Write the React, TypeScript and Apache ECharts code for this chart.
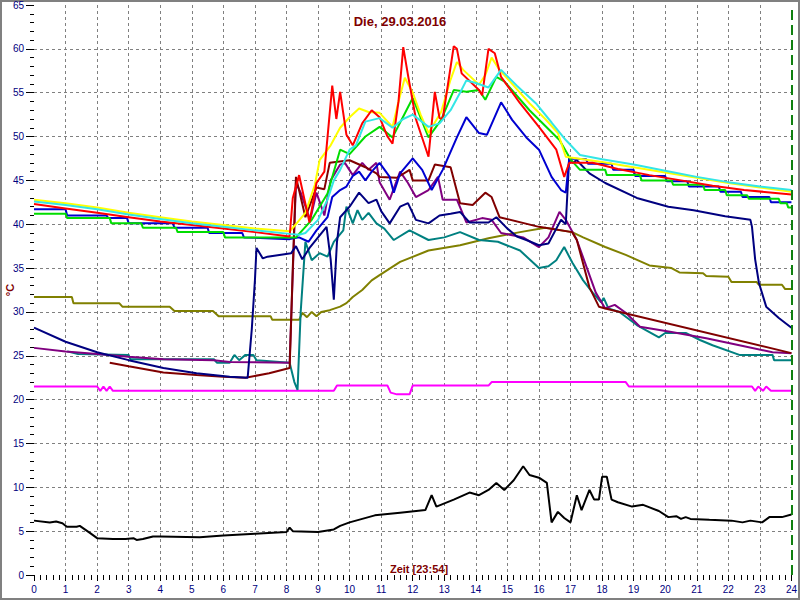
import React, { useEffect, useRef } from "react";
import * as echarts from "echarts";

const chartTitle = "Die, 29.03.2016";
const xAxisName = "Zeit [23:54]";
const yAxisName = "°C";
const nowHour = 24;

const yellowData = [[0,42.8],[1,42.4],[2,41.9],[3,41.3],[4,40.8],[5,40.3],[6,39.9],[7,39.5],[8.1,39.2],[8.3,40],[8.6,41.3],[8.9,44.5],[9.05,47.3],[9.4,49],[9.7,51],[10.0,52.2],[10.3,53.2],[10.6,52.8],[10.95,52.7],[11.36,51.1],[11.55,54],[11.75,56.7],[12.0,55],[12.25,52.5],[12.5,50.4],[12.9,52.8],[13.2,56.5],[13.4,58.5],[13.6,57.6],[14.1,55.9],[14.3,57],[14.5,59],[14.75,57.6],[15.2,55.8],[15.7,53.8],[16.2,52],[16.6,50.4],[16.85,47.7],[17.0,47.6],[18,47.1],[19,46.5],[20,45.9],[21,45.3],[22,44.7],[23,44.2],[24,43.7]];

const cyanData = [[0,42.6],[1,42.2],[2,41.7],[3,41.1],[4,40.6],[5,40.1],[6,39.7],[7,39.3],[8.1,38.9],[8.4,38.8],[8.6,39],[9.0,40.5],[9.3,42.8],[9.5,45],[9.7,46.2],[10.0,48.5],[10.2,49],[10.5,51.7],[10.95,52.1],[11.36,51],[11.7,52],[12.0,52.5],[12.5,51.1],[12.85,51.5],[13.2,53],[13.5,55],[13.7,56.4],[14.0,56.1],[14.4,55.6],[14.8,57.6],[15.3,55.8],[15.9,53.8],[16.4,51.6],[16.85,49.6],[17.3,47.9],[18,47.4],[19,46.8],[20,46.1],[21,45.4],[22,44.8],[23,44.3],[24,43.9]];

const redData = [[0,42.3],[1,41.8],[2,41.3],[3,40.8],[4,40.3],[5,39.9],[6,39.5],[7,39.1],[8.1,38.6],[8.2,43],[8.4,45.6],[8.73,40.2],[8.95,44.7],[9.2,46],[9.45,55.8],[9.58,52],[9.7,55.1],[9.9,50.2],[10.1,49],[10.4,51.5],[10.7,53],[10.95,52.2],[11.2,50],[11.36,49.2],[11.55,54],[11.7,60.2],[11.85,57],[12.1,52],[12.5,47.7],[12.7,55.1],[12.85,52.1],[12.95,52],[13.3,60.3],[13.4,60],[13.55,57.2],[14.1,55.3],[14.2,54.7],[14.4,60],[14.6,59.5],[14.8,56.8],[15.4,53.8],[16.0,51.1],[16.55,48.5],[16.8,45.4],[16.96,47],[17.7,47],[18.5,46.3],[19.5,45.6],[20.5,45],[21.5,44.4],[22.5,43.9],[24,43.4]];

const greenData = [[0,41.2],[1.0,41.2],[1.05,40.7],[2.4,40.7],[2.45,40.1],[3.4,40.1],[3.45,39.6],[4.5,39.6],[4.55,39.1],[6.0,39.1],[6.05,38.5],[8.3,38.5],[8.8,40.5],[9.3,43.5],[9.7,48.5],[10.0,48],[10.5,50],[10.95,51.1],[11.36,49.9],[12.0,54.4],[12.5,49.9],[12.9,51.9],[13.3,55.3],[13.7,55.1],[14.1,55.3],[14.3,54.2],[14.65,56.8],[14.9,56.3],[15.7,53],[16.65,49.6],[17.0,47.4],[17.3,46.2],[18.1,46.2],[18.15,45.6],[19.2,45.6],[19.25,45.0],[20.2,45.0],[20.25,44.5],[21.2,44.5],[21.25,43.9],[21.9,43.9],[21.95,43.3],[22.6,43.3],[22.65,42.9],[23.6,42.9],[23.65,42.4],[23.85,42.4],[23.9,41.9],[24,41.9]];

const blueData = [[0,41.7],[1.0,41.7],[1.05,41.0],[2.3,41.0],[2.35,40.7],[2.95,40.7],[3.0,40.1],[4.4,40.1],[4.45,39.6],[5.5,39.6],[5.55,39.0],[6.6,39.0],[6.65,38.5],[8.1,38.3],[8.4,38.5],[8.7,38],[8.95,39.3],[9.3,40.8],[9.45,43.1],[9.7,43.9],[9.9,44.3],[10.1,45.5],[10.3,46],[10.5,45],[10.7,46],[10.95,47],[11.27,45.4],[11.4,43.6],[11.6,45.8],[12.0,47.5],[12.3,46.2],[12.6,43.9],[12.95,46.2],[13.4,49.9],[13.7,52.2],[14.1,50.4],[14.35,50.2],[14.8,53.9],[15.15,51.9],[15.6,49.9],[16.0,48.5],[16.4,45.4],[16.7,43.9],[16.85,43.6],[16.96,47.5],[17.5,47.4],[17.55,46.9],[18.3,46.9],[18.35,46.2],[19.0,46.2],[19.05,45.5],[20.0,45.5],[20.05,44.9],[20.7,44.9],[20.75,44.3],[21.7,44.3],[21.75,43.7],[22.4,43.7],[22.45,43.1],[23.3,43.1],[23.35,42.5],[24,42.5]];

const navyData = [[0,28.2],[1.0,26.6],[2.0,25.4],[3.0,24.5],[4.1,23.6],[5.15,23.0],[6.2,22.6],[6.77,22.5],[6.9,28],[7.0,33.6],[7.05,37.3],[7.25,36.1],[7.4,36.3],[8.15,36.7],[8.3,37.5],[8.5,36],[8.75,37.4],[9.0,38.5],[9.27,39.7],[9.4,36],[9.5,31.4],[9.6,38],[9.7,40.8],[10.0,42],[10.3,43.6],[10.6,42.4],[10.85,42.8],[11.0,41.5],[11.27,40.1],[11.6,42],[11.85,42.4],[12.1,40.5],[12.5,40.1],[12.85,41],[13.2,41.2],[13.5,41.4],[13.8,40.2],[14.4,40.2],[14.65,40.8],[15.0,39.5],[15.3,38.6],[15.6,38.2],[16.0,37.6],[16.3,37.8],[16.55,39.5],[16.7,40.5],[16.85,40],[16.96,47.7],[17.06,47],[17.2,47.3],[17.6,45.8],[18.1,44.7],[19.1,43],[20.1,42],[20.9,41.6],[21.9,40.9],[22.7,40.5],[22.75,39.7],[22.85,36],[22.97,33.3],[23.2,30.6],[23.6,29.3],[24,28.2]];

const maroonData = [[2.4,24.2],[3.0,23.8],[4.1,23.1],[5.15,22.8],[6.0,22.6],[6.7,22.5],[7.45,23.0],[8.1,23.6],[8.2,35],[8.3,45.4],[8.6,40.8],[8.95,44.2],[9.2,44],[9.37,47],[10.0,47.3],[10.5,46.5],[10.85,45.8],[10.95,45.4],[11.5,45.3],[11.9,46.2],[12.0,45],[12.5,45],[12.7,46.8],[13.2,46.5],[13.5,42.4],[13.9,42.2],[14.3,43.6],[14.5,43.1],[14.75,40.8],[16.0,39.7],[17.05,39.1],[17.2,38.2],[17.6,32.8],[17.9,30.6],[18.1,30.4],[24,25.3]];

const purpleData = [[0,25.9],[1.0,25.5],[2.0,25.2],[3.0,24.9],[4.1,24.6],[5.7,24.5],[6.2,24.3],[8.1,24.2],[8.3,44.7],[8.45,43.6],[8.75,40.5],[8.95,43.6],[9.2,41],[9.4,45],[9.7,46.8],[9.85,47],[10.1,45.6],[10.4,47],[10.6,46.2],[10.85,47],[10.95,44.8],[11.27,42.8],[11.6,46],[11.85,44.7],[12.1,43.1],[12.5,43.9],[12.8,45.4],[12.95,42.8],[13.4,42.8],[13.7,40.2],[14.2,40.7],[14.5,40.5],[14.8,39],[15.5,38.5],[16.0,37.4],[16.3,38.5],[16.65,41.4],[16.85,40.5],[17.2,38.2],[17.8,32.2],[18.1,30.4],[18.4,30.8],[18.75,29.9],[19.2,28.3],[20.2,27.7],[21.3,27],[22.35,26.2],[23.4,25.4],[24,25.3]];

const tealData = [[1.05,25.5],[1.4,25.2],[3.0,25.1],[3.05,24.6],[5.7,24.6],[5.8,24.2],[6.2,24.2],[6.35,25.1],[6.5,24.5],[6.7,25.1],[6.95,25.1],[7.05,24.5],[8.1,24.2],[8.25,22],[8.35,21.1],[8.45,30],[8.6,38],[8.8,35.9],[9.05,36.7],[9.3,36.3],[9.5,38],[9.8,39.3],[9.9,42],[10.1,40.1],[10.25,41.6],[10.4,40.5],[10.6,41.3],[10.85,40.1],[11.1,39.5],[11.4,38.2],[11.9,39.3],[12.5,38.2],[13.0,38.5],[13.5,39.1],[14.1,38.2],[14.7,38.0],[15.4,37],[16.0,35],[16.3,35.2],[16.55,35.9],[16.8,37.4],[17.06,35.6],[17.4,33.6],[17.7,32.2],[17.97,31.1],[18.05,31.6],[18.2,30.4],[18.55,30],[19.1,28.5],[19.5,27.7],[19.8,27.1],[20.0,27.6],[20.65,27.6],[21.1,26.8],[21.5,26.2],[22.35,25.1],[23.4,25.1],[23.45,24.5],[24,24.5]];

const oliveData = [[0,31.7],[1.2,31.7],[1.25,31.0],[2.7,31.0],[2.8,30.6],[4.3,30.6],[4.45,30.1],[5.67,30.1],[5.85,29.5],[7.5,29.5],[7.55,29.1],[8.4,29.1],[8.5,29.9],[8.65,29.4],[8.8,30],[8.95,29.5],[9.1,30.0],[9.37,30.2],[9.7,30.6],[9.9,31],[10.1,31.7],[10.4,32.5],[10.7,33.6],[10.95,34.2],[11.6,35.7],[12.5,37],[13.5,37.6],[14.4,38.4],[15.4,39.1],[16.2,39.6],[17.05,39.1],[17.4,38.5],[18.1,37.4],[18.75,36.5],[19.5,35.3],[20.2,35],[20.45,34.5],[21.2,34.4],[21.3,34.1],[22.0,34],[22.1,33.4],[22.9,33.4],[22.97,33.1],[23.7,33.1],[23.8,32.6],[24,32.6]];

const magentaData = [[0,21.5],[2.0,21.5],[2.1,21.0],[2.2,21.5],[2.3,21.0],[2.4,21.5],[2.5,21.0],[9.5,21.0],[9.6,21.6],[11.2,21.6],[11.3,20.8],[11.5,20.6],[11.9,20.6],[12.0,21.6],[14.4,21.6],[14.5,22.0],[18.75,22.0],[18.85,21.5],[22.75,21.5],[22.85,21.0],[22.95,21.5],[23.1,21.0],[23.2,21.5],[23.35,21.0],[24,21.0]];

const blackData = [[0,6.2],[0.5,6.0],[0.7,6.1],[0.9,5.9],[1.04,5.5],[1.35,5.5],[1.45,5.6],[1.77,4.8],[2.0,4.2],[2.5,4.1],[2.9,4.1],[3.15,4.2],[3.25,4.0],[3.45,4.1],[3.77,4.4],[4.0,4.4],[5.25,4.3],[6.0,4.5],[7.0,4.7],[8.0,4.9],[8.1,5.4],[8.2,5.0],[9.0,4.9],[9.5,5.2],[9.7,5.6],[10.0,6.0],[10.8,6.8],[11.6,7.1],[12.4,7.4],[12.6,9.1],[12.75,7.8],[13.3,8.6],[13.8,9.4],[14.1,9.1],[14.4,9.7],[14.65,10.5],[14.9,9.7],[15.2,10.8],[15.5,12.4],[15.7,11.4],[16.0,11.1],[16.25,10.5],[16.4,6.0],[16.6,7.2],[16.8,6.5],[17.0,6.0],[17.2,9.1],[17.35,7.4],[17.6,9.7],[17.75,8.6],[17.9,8.6],[18.0,11.2],[18.15,11.2],[18.3,8.6],[18.5,8.3],[18.95,7.8],[19.3,8.0],[19.8,7.3],[20.1,6.6],[20.35,6.7],[20.5,6.4],[20.65,6.6],[20.8,6.4],[21.4,6.3],[22.1,6.2],[22.45,6.0],[22.7,6.2],[23.07,6.0],[23.3,6.6],[23.7,6.6],[24,6.9]];

const seriesDefs = [
  { name: "olive", color: "#808000", data: oliveData },
  { name: "magenta", color: "#ff00ff", data: magentaData },
  { name: "black", color: "#000000", data: blackData },
  { name: "teal", color: "#008080", data: tealData },
  { name: "purple", color: "#800080", data: purpleData },
  { name: "maroon", color: "#800000", data: maroonData },
  { name: "navy", color: "#000080", data: navyData },
  { name: "blue", color: "#0000d0", data: blueData },
  { name: "green", color: "#00dd00", data: greenData },
  { name: "yellow", color: "#ffff00", data: yellowData },
  { name: "red", color: "#ff0000", data: redData },
  { name: "cyan", color: "#33e6e6", data: cyanData },
];

export default function App() {
  const ref = useRef<HTMLDivElement>(null);
  useEffect(() => {
    document.body.style.margin = "0";
    const chart = echarts.init(ref.current!, null, { renderer: "svg" });
    const font = "Liberation Sans, Arial, sans-serif";
    const series: any[] = seriesDefs.map((s) => ({
      name: s.name,
      type: "line",
      data: s.data,
      showSymbol: false,
      symbol: "none",
      lineStyle: { color: s.color, width: 2 },
      itemStyle: { color: s.color },
      silent: true,
    }));
    series.push({
      type: "line",
      data: [],
      markLine: {
        silent: true,
        symbol: "none",
        label: { show: false },
        lineStyle: { color: "#108010", type: [10, 5], width: 2 },
        data: [{ xAxis: nowHour }],
      },
    });
    chart.setOption({
      animation: false,
      backgroundColor: "#ffffff",
      textStyle: { fontFamily: font },
      title: {
        text: chartTitle,
        left: "center",
        top: 10,
        textStyle: { fontSize: 13, fontWeight: "bold", color: "#800000", fontFamily: font },
      },
      grid: { left: 34, right: 7, top: 5, bottom: 25, containLabel: false },
      xAxis: {
        type: "value",
        min: 0,
        max: 24,
        interval: 1,
        axisLine: { show: false },
        axisTick: { show: true, length: 6, lineStyle: { color: "#000" } },
        minorTick: { show: true, splitNumber: 5, length: 5, lineStyle: { color: "#000" } },
        axisLabel: { color: "#000080", fontSize: 10, margin: 9, fontFamily: font },
        splitLine: {
          show: true,
          showMinLine: false,
          showMaxLine: false,
          lineStyle: { color: "#808080", type: [3, 3], width: 1 },
        },
      },
      yAxis: {
        type: "value",
        min: 0,
        max: 65,
        interval: 5,
        axisLine: { show: false },
        axisTick: { show: true, length: 8, lineStyle: { color: "#000" } },
        minorTick: { show: true, splitNumber: 5, length: 4, lineStyle: { color: "#000" } },
        axisLabel: { color: "#000080", fontSize: 10, margin: 10, fontFamily: font },
        splitLine: {
          show: true,
          showMinLine: false,
          showMaxLine: false,
          lineStyle: { color: "#808080", type: [3, 3], width: 1 },
        },
      },
      graphic: [
        {
          type: "rect",
          shape: { x: 1, y: 1, width: 798, height: 598 },
          style: { fill: "none", stroke: "#808080", lineWidth: 2 },
          silent: true,
        },
        {
          type: "text",
          x: 419,
          y: 569,
          style: {
            text: xAxisName,
            fill: "#800000",
            font: `bold 11px ${font}`,
            align: "center",
            verticalAlign: "middle",
          },
        },
        {
          type: "text",
          x: 10,
          y: 290,
          rotation: Math.PI / 2,
          style: {
            text: yAxisName,
            fill: "#800000",
            font: `bold 11px ${font}`,
            align: "center",
            verticalAlign: "middle",
          },
        },
      ],
      series,
    });
    return () => chart.dispose();
  }, []);
  return <div ref={ref} style={{ width: 800, height: 600 }} />;
}
